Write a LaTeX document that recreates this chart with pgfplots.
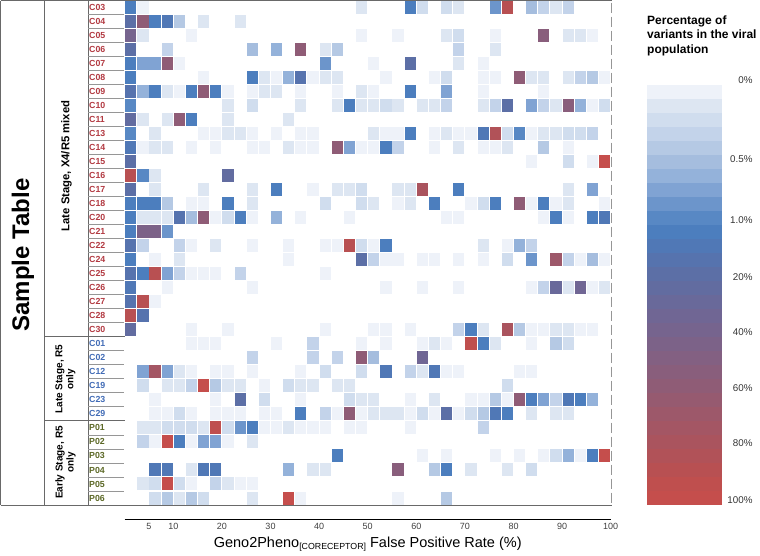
\documentclass[border=0pt]{standalone}
\usepackage{fontspec}
\setmainfont{Liberation Sans}
\usepackage{pgfplots}
\usepackage{pgfplotstable}
\pgfplotsset{compat=1.18}
\pgfdeclareplotmark{cell}{\pgfpathrectangle{\pgfpoint{-5.6pt}{-6.5pt}}{\pgfpoint{11.2pt}{13pt}}\pgfusepathqfill}
\pgfdeclareplotmark{band}{\pgfpathrectangle{\pgfpoint{-18.85pt}{-7.1pt}}{\pgfpoint{37.7pt}{14.2pt}}\pgfusepathqfill}
\definecolor{labred}{RGB}{178,58,66}
\definecolor{labblue}{RGB}{66,108,182}
\definecolor{labgreen}{RGB}{92,104,38}
\definecolor{frame}{RGB}{105,105,105}
\definecolor{sep}{RGB}{150,150,150}
\pgfplotsset{colormap={varpct}{
rgb255=(238,242,249) rgb255=(221,230,242) rgb255=(208,221,238) rgb255=(195,211,234)
rgb255=(181,201,228) rgb255=(165,189,222) rgb255=(148,178,218) rgb255=(128,163,211)
rgb255=(108,149,203) rgb255=(88,136,196) rgb255=(76,126,190) rgb255=(80,120,182)
rgb255=(86,115,174) rgb255=(92,111,166) rgb255=(98,108,160) rgb255=(105,105,154)
rgb255=(112,102,148) rgb255=(118,100,142) rgb255=(124,98,136) rgb255=(131,96,130)
rgb255=(137,94,124) rgb255=(143,92,118) rgb255=(150,90,112) rgb255=(157,88,106)
rgb255=(164,86,100) rgb255=(170,84,94) rgb255=(177,82,88) rgb255=(184,80,82)
rgb255=(191,79,78) rgb255=(197,78,76)}}
% c = column (bins of 2.5 %), r = row, m = colour level 0..29
\pgfplotstableread[row sep=\\]{c r m\\
0 0 10\\ 1 0 0\\ 19 0 1\\ 23 0 10\\ 24 0 2\\ 26 0 2\\ 27 0 1\\ 30 0 8\\ 31 0 27\\ 33 0 5\\ 34 0 3\\ 35 0 1\\ 36 0 3\\
0 1 13\\ 1 1 21\\ 2 1 10\\ 3 1 11\\ 4 1 4\\ 6 1 1\\ 9 1 1\\
0 2 17\\ 1 2 1\\ 5 2 0\\ 19 2 0\\ 22 2 0\\ 26 2 1\\ 27 2 2\\ 30 2 0\\ 34 2 20\\ 36 2 1\\ 37 2 1\\ 38 2 0\\
0 3 13\\ 3 3 3\\ 10 3 5\\ 12 3 6\\ 14 3 21\\ 16 3 1\\ 17 3 4\\ 27 3 3\\ 30 3 1\\
0 4 10\\ 1 4 7\\ 2 4 7\\ 3 4 21\\ 4 4 0\\ 16 4 8\\ 20 4 0\\ 23 4 13\\ 27 4 1\\ 29 4 0\\
0 5 10\\ 6 5 0\\ 10 5 10\\ 11 5 1\\ 12 5 0\\ 13 5 6\\ 14 5 12\\ 15 5 0\\ 16 5 1\\ 17 5 1\\ 21 5 0\\ 25 5 0\\ 26 5 2\\ 29 5 0\\ 30 5 0\\ 32 5 21\\ 33 5 1\\ 34 5 1\\ 36 5 1\\ 37 5 3\\ 38 5 4\\ 39 5 0\\
0 6 12\\ 1 6 6\\ 2 6 10\\ 3 6 1\\ 4 6 0\\ 5 6 10\\ 6 6 21\\ 7 6 10\\ 8 6 0\\ 10 6 0\\ 11 6 1\\ 12 6 1\\ 14 6 0\\ 17 6 0\\ 19 6 1\\ 20 6 0\\ 23 6 10\\ 26 6 7\\ 29 6 0\\ 34 6 0\\
0 7 9\\ 8 7 1\\ 10 7 2\\ 14 7 1\\ 17 7 1\\ 18 7 10\\ 19 7 1\\ 20 7 1\\ 21 7 2\\ 22 7 1\\ 24 7 1\\ 25 7 1\\ 26 7 3\\ 29 7 1\\ 30 7 3\\ 31 7 13\\ 33 7 7\\ 34 7 3\\ 35 7 1\\ 36 7 20\\ 37 7 6\\ 38 7 0\\ 39 7 2\\
0 8 14\\ 1 8 1\\ 3 8 1\\ 4 8 21\\ 5 8 10\\ 8 8 1\\ 13 8 1\\
0 9 9\\ 2 9 1\\ 6 9 0\\ 7 9 0\\ 8 9 1\\ 9 9 1\\ 10 9 0\\ 12 9 0\\ 14 9 0\\ 15 9 0\\ 20 9 1\\ 21 9 0\\ 22 9 0\\ 23 9 10\\ 25 9 0\\ 26 9 1\\ 27 9 0\\ 28 9 0\\ 29 9 11\\ 30 9 26\\ 31 9 2\\ 32 9 9\\ 33 9 0\\ 34 9 1\\ 35 9 1\\ 36 9 2\\ 37 9 2\\ 38 9 3\\
0 10 11\\ 1 10 0\\ 2 10 1\\ 3 10 1\\ 5 10 0\\ 7 10 0\\ 10 10 0\\ 11 10 0\\ 13 10 1\\ 14 10 0\\ 15 10 0\\ 17 10 21\\ 18 10 7\\ 19 10 0\\ 20 10 0\\ 21 10 10\\ 22 10 3\\ 25 10 0\\ 27 10 1\\ 29 10 0\\ 30 10 0\\ 31 10 1\\ 34 10 4\\ 36 10 0\\
0 11 13\\ 33 11 0\\ 36 11 2\\ 38 11 0\\ 39 11 29\\
0 12 27\\ 1 12 9\\ 2 12 1\\ 8 12 14\\
0 13 13\\ 2 13 1\\ 6 13 1\\ 10 13 1\\ 12 13 10\\ 15 13 0\\ 17 13 1\\ 18 13 1\\ 19 13 2\\ 22 13 1\\ 23 13 1\\ 24 13 25\\ 27 13 10\\ 36 13 1\\ 38 13 7\\
0 14 10\\ 1 14 10\\ 2 14 10\\ 3 14 4\\ 5 14 0\\ 6 14 0\\ 8 14 10\\ 10 14 1\\ 16 14 2\\ 19 14 2\\ 20 14 1\\ 22 14 0\\ 23 14 1\\ 25 14 10\\ 28 14 0\\ 29 14 2\\ 30 14 10\\ 32 14 21\\ 33 14 0\\ 34 14 10\\ 35 14 0\\ 36 14 1\\ 39 14 0\\
0 15 10\\ 1 15 1\\ 2 15 1\\ 3 15 1\\ 4 15 12\\ 5 15 5\\ 6 15 21\\ 7 15 0\\ 8 15 2\\ 9 15 10\\ 10 15 0\\ 12 15 6\\ 14 15 0\\ 18 15 0\\ 26 15 0\\ 27 15 0\\ 34 15 0\\ 35 15 10\\ 36 15 0\\ 38 15 10\\ 39 15 11\\
0 16 10\\ 1 16 18\\ 2 16 18\\ 3 16 8\\
0 17 12\\ 1 17 3\\ 4 17 3\\ 5 17 0\\ 7 17 1\\ 10 17 0\\ 13 17 0\\ 16 17 0\\ 17 17 0\\ 18 17 27\\ 19 17 2\\ 20 17 0\\ 21 17 10\\ 29 17 1\\ 31 17 0\\ 32 17 6\\ 33 17 3\\
0 18 10\\ 2 18 0\\ 4 18 1\\ 13 18 0\\ 19 18 13\\ 20 18 3\\ 21 18 0\\ 22 18 0\\ 24 18 0\\ 25 18 0\\ 27 18 0\\ 29 18 0\\ 31 18 2\\ 33 18 8\\ 35 18 23\\ 36 18 3\\ 37 18 0\\ 38 18 5\\ 39 18 0\\
0 19 12\\ 1 19 10\\ 2 19 27\\ 3 19 7\\ 4 19 3\\ 5 19 0\\ 6 19 0\\ 7 19 0\\ 9 19 3\\ 16 19 0\\
0 20 11\\ 3 20 0\\ 10 20 0\\ 21 20 0\\ 24 20 0\\ 27 20 0\\ 33 20 0\\ 34 20 3\\ 35 20 15\\ 36 20 1\\ 37 20 16\\ 38 20 0\\ 39 20 1\\
0 21 12\\ 1 21 27\\ 2 21 0\\
0 22 27\\ 1 22 12\\
0 23 14\\ 5 23 0\\ 8 23 0\\ 16 23 0\\ 20 23 0\\ 21 23 0\\ 23 23 0\\ 27 23 3\\ 28 23 10\\ 29 23 1\\ 31 23 25\\ 32 23 4\\ 33 23 0\\ 34 23 0\\ 35 23 1\\ 36 23 1\\ 37 23 0\\ 38 23 0\\
}\mixed
\pgfplotstableread[row sep=\\]{c r m\\
5 24 0\\ 6 24 0\\ 7 24 0\\ 12 24 0\\ 15 24 3\\ 19 24 0\\ 21 24 0\\ 24 24 0\\ 25 24 1\\ 26 24 0\\ 28 24 28\\ 29 24 10\\ 30 24 1\\ 33 24 0\\ 35 24 4\\ 36 24 2\\
10 25 3\\ 15 25 3\\ 17 25 3\\ 19 25 21\\ 20 25 5\\ 24 25 16\\
1 26 7\\ 2 26 24\\ 3 26 7\\ 4 26 1\\ 5 26 0\\ 7 26 0\\ 8 26 0\\ 10 26 0\\ 14 26 0\\ 16 26 2\\ 19 26 2\\ 21 26 11\\ 23 26 3\\ 24 26 1\\ 25 26 11\\ 26 26 0\\ 27 26 0\\ 32 26 0\\ 33 26 0\\
1 27 2\\ 3 27 1\\ 4 27 1\\ 5 27 3\\ 6 27 29\\ 7 27 4\\ 8 27 1\\ 9 27 1\\ 11 27 0\\ 13 27 2\\ 14 27 1\\ 15 27 1\\ 17 27 1\\ 18 27 1\\ 31 27 2\\
2 28 0\\ 7 28 0\\ 9 28 13\\ 11 28 2\\ 14 28 0\\ 18 28 2\\ 19 28 1\\ 20 28 1\\ 23 28 0\\ 25 28 1\\ 28 28 0\\ 29 28 0\\ 30 28 4\\ 31 28 0\\ 32 28 21\\ 33 28 10\\ 34 28 7\\ 35 28 3\\ 36 28 11\\ 37 28 10\\ 38 28 6\\
2 29 0\\ 3 29 0\\ 4 29 2\\ 5 29 0\\ 7 29 0\\ 8 29 0\\ 9 29 0\\ 11 29 0\\ 12 29 0\\ 14 29 10\\ 16 29 3\\ 17 29 0\\ 18 29 21\\ 19 29 0\\ 20 29 1\\ 21 29 1\\ 22 29 1\\ 23 29 0\\ 24 29 2\\ 25 29 0\\ 26 29 13\\ 27 29 0\\ 28 29 2\\ 29 29 4\\ 30 29 11\\ 31 29 10\\ 33 29 1\\ 35 29 1\\ 36 29 1\\
}\lateR
\pgfplotstableread[row sep=\\]{c r m\\
1 30 1\\ 2 30 1\\ 3 30 2\\ 4 30 2\\ 5 30 2\\ 6 30 1\\ 7 30 28\\ 8 30 2\\ 9 30 8\\ 10 30 10\\ 11 30 0\\ 12 30 0\\ 13 30 1\\ 14 30 0\\ 15 30 0\\ 16 30 0\\ 18 30 0\\ 19 30 0\\ 23 30 0\\ 29 30 3\\
1 31 3\\ 2 31 0\\ 3 31 29\\ 4 31 10\\ 5 31 0\\ 6 31 7\\ 7 31 7\\ 8 31 0\\ 10 31 1\\
17 32 10\\ 24 32 0\\ 26 32 0\\ 30 32 0\\ 32 32 0\\ 34 32 0\\ 35 32 2\\ 36 32 6\\ 37 32 0\\ 38 32 10\\ 39 32 29\\
2 33 11\\ 3 33 11\\ 5 33 1\\ 6 33 11\\ 7 33 11\\ 13 33 6\\ 15 33 1\\ 16 33 1\\ 22 33 20\\ 25 33 4\\ 26 33 10\\ 28 33 1\\ 31 33 1\\ 33 33 2\\
1 34 1\\ 2 34 2\\ 3 34 29\\ 4 34 2\\ 5 34 0\\ 7 34 3\\ 8 34 1\\ 9 34 0\\ 10 34 0\\
2 35 2\\ 3 35 4\\ 4 35 1\\ 5 35 4\\ 6 35 2\\ 10 35 1\\ 13 35 29\\ 14 35 0\\ 22 35 0\\ 26 35 4\\
}\earlyR
\pgfplotstableread[row sep=\\]{c r m\\
0 0 0\\ 1 0 0\\ 0 1 1\\ 1 1 1\\ 0 2 2\\ 1 2 2\\ 0 3 3\\ 1 3 3\\ 0 4 4\\ 1 4 4\\
0 5 5\\ 1 5 5\\ 0 6 6\\ 1 6 6\\ 0 7 7\\ 1 7 7\\ 0 8 8\\ 1 8 8\\ 0 9 9\\ 1 9 9\\
0 10 10\\ 1 10 10\\ 0 11 11\\ 1 11 11\\ 0 12 12\\ 1 12 12\\ 0 13 13\\ 1 13 13\\ 0 14 14\\ 1 14 14\\
0 15 15\\ 1 15 15\\ 0 16 16\\ 1 16 16\\ 0 17 17\\ 1 17 17\\ 0 18 18\\ 1 18 18\\ 0 19 19\\ 1 19 19\\
0 20 20\\ 1 20 20\\ 0 21 21\\ 1 21 21\\ 0 22 22\\ 1 22 22\\ 0 23 23\\ 1 23 23\\ 0 24 24\\ 1 24 24\\
0 25 25\\ 1 25 25\\ 0 26 26\\ 1 26 26\\ 0 27 27\\ 1 27 27\\ 0 28 28\\ 1 28 28\\ 0 29 29\\ 1 29 29\\
}\cbar
\begin{document}
\begin{tikzpicture}[x=1pt,y=1pt]
\useasboundingbox (0pt,0pt) rectangle (760pt,-555pt);
% heatmap
\begin{axis}[at={(124.7pt,-505pt)}, anchor=south west, scale only axis,
  width=486pt, height=505pt, xmin=0, xmax=40, ymin=0, ymax=36, y dir=reverse,
  axis line style={draw=none}, xtick=\empty, ytick=\empty, clip=false,
  colormap name=varpct, point meta min=0, point meta max=29]
\addplot[scatter, only marks, mark=cell, scatter src=explicit] table[x expr=\thisrow{c}+0.5, y expr=\thisrow{r}+0.5, meta=m]{\mixed};
\addplot[scatter, only marks, mark=cell, scatter src=explicit] table[x expr=\thisrow{c}+0.5, y expr=\thisrow{r}+0.5, meta=m]{\lateR};
\addplot[scatter, only marks, mark=cell, scatter src=explicit] table[x expr=\thisrow{c}+0.5, y expr=\thisrow{r}+0.5, meta=m]{\earlyR};
\end{axis}
% x axis
\begin{axis}[at={(124.7pt,-519.5pt)}, anchor=south west, scale only axis,
  width=486pt, height=5pt, xmin=0, xmax=100, ymin=0, ymax=1,
  axis x line=bottom, axis y line=none, x axis line style={-, line width=1.4pt, black},
  xtick={5,10,20,30,40,50,60,70,80,90,100}, major tick length=0pt,
  /pgf/number format/assume math mode=true,
  xticklabel style={font=\fontsize{9}{9}\selectfont, text=black!75}]
\end{axis}
% colour bar
\begin{axis}[at={(647pt,-505pt)}, anchor=south west, scale only axis,
  width=75pt, height=427pt, xmin=0, xmax=2, ymin=-0.5, ymax=30, y dir=reverse,
  axis line style={draw=none}, xtick=\empty, clip=false,
  ytick={-0.36,5.29,9.64,13.71,17.64,21.64,25.57,29.64},
  yticklabels={0\%,0.5\%,1.0\%,20\%,40\%,60\%,80\%,100\%},
  yticklabel pos=right, major tick length=0pt,
  yticklabel style={anchor=east, xshift=34pt, font=\fontsize{9.8}{10}\selectfont, text=black!80},
  colormap name=varpct, point meta min=0, point meta max=29]
\addplot[scatter, only marks, mark=band, scatter src=explicit] table[x expr=\thisrow{c}+0.5, y expr=\thisrow{r}+0.5, meta=m]{\cbar};
\end{axis}
% table frame
\draw[frame, line width=0.9pt] (0.5,-0.5) -- (611.5,-0.5);
\draw[frame, line width=0.9pt] (0.5,-505) -- (611.5,-505);
\draw[frame, line width=0.9pt] (0.5,-0.5) -- (0.5,-505);
\draw[frame, line width=0.9pt] (44,-0.5) -- (44,-505);
\draw[frame, line width=0.9pt] (88,-0.5) -- (88,-505);
\draw[frame, line width=0.9pt] (44,-336.7) -- (124.5,-336.7);
\draw[frame, line width=0.9pt] (44,-420.9) -- (124.5,-420.9);
\draw[sep, line width=0.8pt, dash pattern=on 10pt off 4pt, dash phase=-2pt] (611.5,-0.5) -- (611.5,-505);
\foreach \i in {1,...,23,25,26,27,28,29,31,32,33,34,35}
  \draw[sep, line width=0.8pt] (88,{-14.03*\i}) -- (123.5,{-14.03*\i});
% labels
\node[rotate=90, font=\bfseries\fontsize{24}{24}\selectfont] at (23,-255) {Sample Table};
\node[rotate=90, font=\bfseries\fontsize{11.3}{13}\selectfont] at (66.5,-166) {Late Stage, X4/R5 mixed};
\node[rotate=90, align=center, font=\bfseries\fontsize{10}{11}\selectfont] at (65.5,-379) {Late Stage, R5\\only};
\node[rotate=90, align=center, font=\bfseries\fontsize{10}{11}\selectfont] at (65.5,-462.5) {Early Stage, R5\\only};
\foreach \lab [count=\i from 0] in {C03,C04,C05,C06,C07,C08,C09,C10,C11,C13,C14,C15,C16,C17,C18,C20,C21,C22,C24,C25,C26,C27,C28,C30}
  \node[anchor=west, inner sep=0, text=labred, font=\bfseries\fontsize{8.8}{9}\selectfont] at (89,{-7.0-14.03*\i}) {\lab};
\foreach \lab [count=\i from 24] in {C01,C02,C12,C19,C23,C29}
  \node[anchor=west, inner sep=0, text=labblue, font=\bfseries\fontsize{8.8}{9}\selectfont] at (89,{-7.0-14.03*\i}) {\lab};
\foreach \lab [count=\i from 30] in {P01,P02,P03,P04,P05,P06}
  \node[anchor=west, inner sep=0, text=labgreen, font=\bfseries\fontsize{8.8}{9}\selectfont] at (89,{-7.0-14.03*\i}) {\lab};
\node[anchor=north west, align=left, inner sep=0, font=\bfseries\fontsize{12}{14.5}\selectfont] at (647,-15.5) {Percentage of\\variants in the viral\\population};
\node[anchor=base, font=\fontsize{14.5}{15}\selectfont] at (367.7,-547) {Geno2Pheno{\fontsize{8.8}{9}\selectfont\raisebox{-2.8pt}{[CORECEPTOR]}} False Positive Rate (\%)};
\end{tikzpicture}
\end{document}
